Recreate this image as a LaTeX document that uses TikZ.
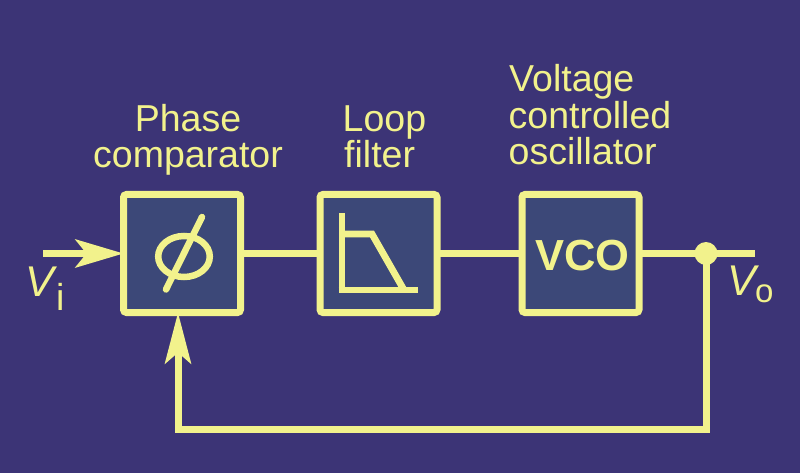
\documentclass[tikz,border=0pt]{standalone}
\usepackage{fontspec}
\setmainfont{Liberation Sans}
\usetikzlibrary{arrows.meta}
\definecolor{bgc}{RGB}{60,52,118}
\definecolor{ylw}{RGB}{242,242,140}
\definecolor{boxc}{RGB}{60,72,120}
\tikzset{
  blockbox/.style={draw=ylw, fill=boxc, line width=7pt, rounded corners=3pt,
    minimum width=117pt, minimum height=118pt, inner sep=0pt, outer sep=0pt},
  wire/.style={draw=ylw, line width=7pt},
  lbl/.style={text=ylw, inner sep=0pt, font=\fontsize{37.5}{37}\selectfont},
  sym/.style={draw=ylw, line width=6.5pt},
}
\begin{document}
\begin{tikzpicture}[x=1pt,y=-1pt]
\fill[bgc] (0,0) rectangle (800,473);
\useasboundingbox (0,0) rectangle (800,473);

% blocks
\node[blockbox] (pc) at (182,253.5) {};
\node[blockbox] (lf) at (378.5,253.5) {};
\node[blockbox] (vco) at (580.5,253.5) {};
\node[text=ylw, inner sep=0pt, anchor=base, font=\fontsize{43.5}{44}\selectfont\bfseries] (vcot) at (582.5,270.7) {VCO};

% phase symbol
\draw[sym] (184,256.5) ellipse [x radius=25.8, y radius=20.5];
\draw[sym, line cap=round] (166,289.5) -- (202,217);

% filter symbol
\draw[sym, line width=6.8pt] (342,213) -- (342,290);
\draw[sym, line width=6.8pt] (342,234) -- (372,234) -- (404,290);
\draw[sym, line width=6.8pt] (338.6,290) -- (418,290);

% labels
\node[lbl, anchor=base] (l1) at (188,131.7) {Phase};
\node[lbl, anchor=base] (l2) at (188,168) {comparator};
\node[lbl, anchor=base west] (l3) at (342.5,131.7) {Loop};
\node[lbl, anchor=base west] (l4) at (344,168) {filter};
\node[lbl, anchor=base west] (l5) at (509,91.7) {Voltage};
\node[lbl, anchor=base west] (l6) at (508.5,128.4) {controlled};
\node[lbl, anchor=base west] (l7) at (508.5,165) {oscillator};

% connectors
\coordinate (inp) at (43,253.5);
\coordinate (outend) at (755,253.5);
\node[circle, fill=ylw, minimum size=23pt, inner sep=0pt] (dot) at (706,253.5) {};
\coordinate (c1) at (706,429);
\coordinate (c2) at (178,429);

\draw[wire, -{Stealth[length=48pt, width=28pt, inset=11pt]}] (inp) -- (pc.west);
\draw[wire] (pc.east) -- (lf.west);
\draw[wire] (lf.east) -- (vco.west);
\draw[wire] (vco.east) -- (outend);
\draw[wire, -{Stealth[length=51pt, width=26pt, inset=11pt]}] (dot.center) -- (c1) -- (c2) -- (c2 |- pc.south);

% V labels
\node[text=ylw, inner sep=0pt, anchor=base west, font=\fontsize{43}{44}\selectfont\itshape] (vi) at (25,296.7) {V};
\node[text=ylw, inner sep=0pt, anchor=base west, font=\fontsize{37.5}{38}\selectfont] (vis) at (56,310) {i};
\node[text=ylw, inner sep=0pt, anchor=base west, font=\fontsize{43}{44}\selectfont\itshape] (vo) at (727,295) {V};
\node[text=ylw, inner sep=0pt, anchor=base west, font=\fontsize{33}{34}\selectfont] (vos) at (755,302.7) {o};
\end{tikzpicture}
\end{document}
